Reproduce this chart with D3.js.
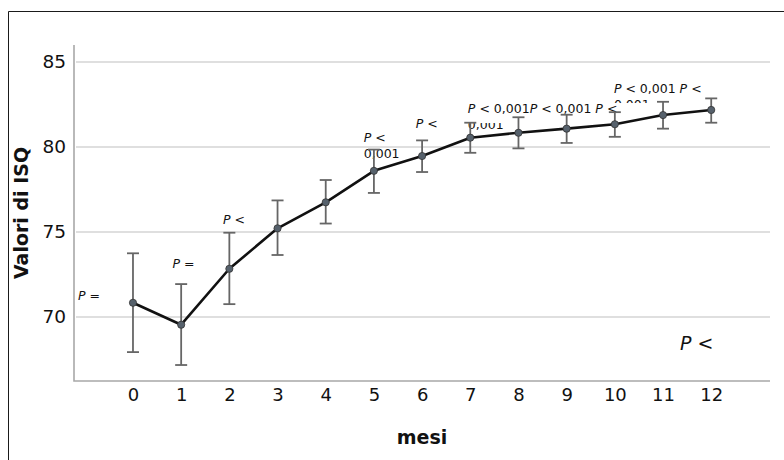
<!DOCTYPE html>
<html>
<head>
<meta charset="utf-8">
<script src="https://cdn.jsdelivr.net/npm/d3@7"></script>
<style>
  body { margin: 0; background: #fff; }
  svg { display: block; }
  .tick text { font-family: "DejaVu Sans", sans-serif; fill: #111; }
</style>
</head>
<body>
<svg id="chart" width="784" height="460"></svg>
<script>
// months and ISQ values
const months = [0, 1, 2, 3, 4, 5, 6, 7, 8, 9, 10, 11, 12]
const means  = [70.84, 69.55, 72.84, 75.22, 76.75, 78.6, 79.47, 80.55, 80.84, 81.08, 81.34, 81.88, 82.18]
const upper  = [73.75, 71.94, 74.96, 76.86, 78.06, 79.85, 80.39, 81.43, 81.75, 81.9, 82.05, 82.66, 82.86]
const lower  = [67.94, 67.18, 70.76, 73.65, 75.5, 77.3, 78.53, 79.66, 79.92, 80.24, 80.6, 81.08, 81.43]
const yTicks = [70, 75, 80, 85]

// P value labels (position in data units, lines of text)
const pLabels = [
    {x: -1.14, y: 71.0,  lines: [["P", " ="]]},
    {x: 0.82,  y: 72.88, lines: [["P", " ="]]},
    {x: 1.87,  y: 75.47, lines: [["P", " <"]]},
    {x: 4.79,  y: 80.31, lines: [["P", " <"], ["", "0,001"]]},
    {x: 5.87,  y: 81.12, lines: [["P", " <"]]},
    {x: 9.98,  y: 83.18, lines: [["P", " < 0,001 "], ["P", " <"]], second: "0,001"},
    {x: 6.95,  y: 82.0,  lines: [["P", " < 0,001"], ["P", " < 0,001 "], ["P", " <"]], second: "0,001", box: true}
]

const svg = d3.select("#chart")
const width = +svg.attr("width")
const height = +svg.attr("height")

const x = d3.scaleLinear().domain([-1.224, 13.22]).range([74, 770])
const y = d3.scaleLinear().domain([66.24, 86]).range([381, 45])

// outer frame (top and left only)
svg.append("path")
    .attr("d", `M8.5,${height} L8.5,11.5 L${width},11.5`)
    .attr("fill", "none")
    .attr("stroke", "#1a1a1a")
    .attr("stroke-width", 1)

// grid
svg.append("g").selectAll("line")
    .data(yTicks)
    .enter()
    .append("line")
    .attr("x1", 76).attr("x2", 770)
    .attr("y1", d => y(d)).attr("y2", d => y(d))
    .attr("stroke", "#d4d4d4")
    .attr("stroke-width", 1.5)

// axes lines
svg.append("path")
    .attr("d", `M74,45 L74,381 L770,381`)
    .attr("fill", "none")
    .attr("stroke", "#a8a8a8")
    .attr("stroke-width", 1.6)

const yAxis = svg.append("g")
    .attr("transform", "translate(74,0)")
    .call(d3.axisLeft(y).tickValues(yTicks).tickSize(0).tickPadding(8))
yAxis.select(".domain").remove()
yAxis.selectAll("text").style("font-size", "18.5px")

const xAxis = svg.append("g")
    .attr("transform", "translate(0,381)")
    .call(d3.axisBottom(x).tickValues(months).tickSize(0).tickPadding(7))
xAxis.select(".domain").remove()
xAxis.selectAll("text").style("font-size", "18px")

// axis titles
svg.append("text")
    .attr("x", 422).attr("y", 444)
    .attr("text-anchor", "middle")
    .style("font-family", "DejaVu Sans, sans-serif")
    .style("font-weight", "bold")
    .style("font-size", "19px")
    .attr("fill", "#111")
    .text("mesi")

svg.append("text")
    .attr("transform", `translate(28,${(45 + 381) / 2}) rotate(-90)`)
    .attr("text-anchor", "middle")
    .style("font-family", "DejaVu Sans, sans-serif")
    .style("font-weight", "bold")
    .style("font-size", "19px")
    .attr("fill", "#111")
    .text("Valori di ISQ")

// P labels
const labelGroup = svg.append("g")
    .style("font-family", "DejaVu Sans, sans-serif")
    .style("font-size", "12.5px")
    .attr("fill", "#111")

pLabels.forEach(lab => {
    const lx = x(lab.x), ly = y(lab.y)
    if (lab.second) {
        // wrapped second line, partly hidden under the next label box
        labelGroup.append("text")
            .attr("x", lx).attr("y", ly + 16)
            .text(lab.second)
    }
    if (lab.box) {
        labelGroup.append("rect")
            .attr("x", lx - 1).attr("y", ly - 10)
            .attr("width", 195).attr("height", 20)
            .attr("fill", "#fff")
    }
    const t = labelGroup.append("text").attr("x", lx).attr("y", ly)
    if (lab.lines.length > 1 && !lab.second) {
        lab.lines.forEach((ln, k) => {
            const tt = k === 0 ? t : labelGroup.append("text").attr("x", lx).attr("y", ly + 16 * k)
            tt.append("tspan").style("font-style", "italic").text(ln[0])
            tt.append("tspan").text(ln[1])
        })
    } else {
        lab.lines.forEach(ln => {
            t.append("tspan").style("font-style", "italic").text(ln[0])
            t.append("tspan").text(ln[1])
        })
    }
})

// big P label
const big = svg.append("text")
    .attr("x", x(11.35)).attr("y", y(68.06))
    .style("font-family", "DejaVu Sans, sans-serif")
    .style("font-size", "19px")
    .attr("fill", "#111")
big.append("tspan").style("font-style", "italic").text("P")
big.append("tspan").text(" <")

// error bars
const bars = svg.append("g")
    .attr("stroke", "#666")
    .attr("stroke-width", 1.8)
    .selectAll("g")
    .data(months)
    .enter()
    .append("g")
bars.append("line")
    .attr("x1", d => x(d)).attr("x2", d => x(d))
    .attr("y1", (d, i) => y(upper[i])).attr("y2", (d, i) => y(lower[i]))
bars.append("line")
    .attr("x1", d => x(d) - 6).attr("x2", d => x(d) + 6)
    .attr("y1", (d, i) => y(upper[i])).attr("y2", (d, i) => y(upper[i]))
bars.append("line")
    .attr("x1", d => x(d) - 6).attr("x2", d => x(d) + 6)
    .attr("y1", (d, i) => y(lower[i])).attr("y2", (d, i) => y(lower[i]))

// mean line
const line = d3.line()
    .x((d, i) => x(months[i]))
    .y(d => y(d))

svg.append("path")
    .datum(means)
    .attr("d", line)
    .attr("fill", "none")
    .attr("stroke", "#111")
    .attr("stroke-width", 2.6)
    .attr("stroke-linejoin", "round")

svg.append("g").selectAll("circle")
    .data(means)
    .enter()
    .append("circle")
    .attr("cx", (d, i) => x(months[i]))
    .attr("cy", d => y(d))
    .attr("r", 3.6)
    .attr("fill", "#56616c")
    .attr("stroke", "#333")
    .attr("stroke-width", 0.8)
</script>
</body>
</html>
